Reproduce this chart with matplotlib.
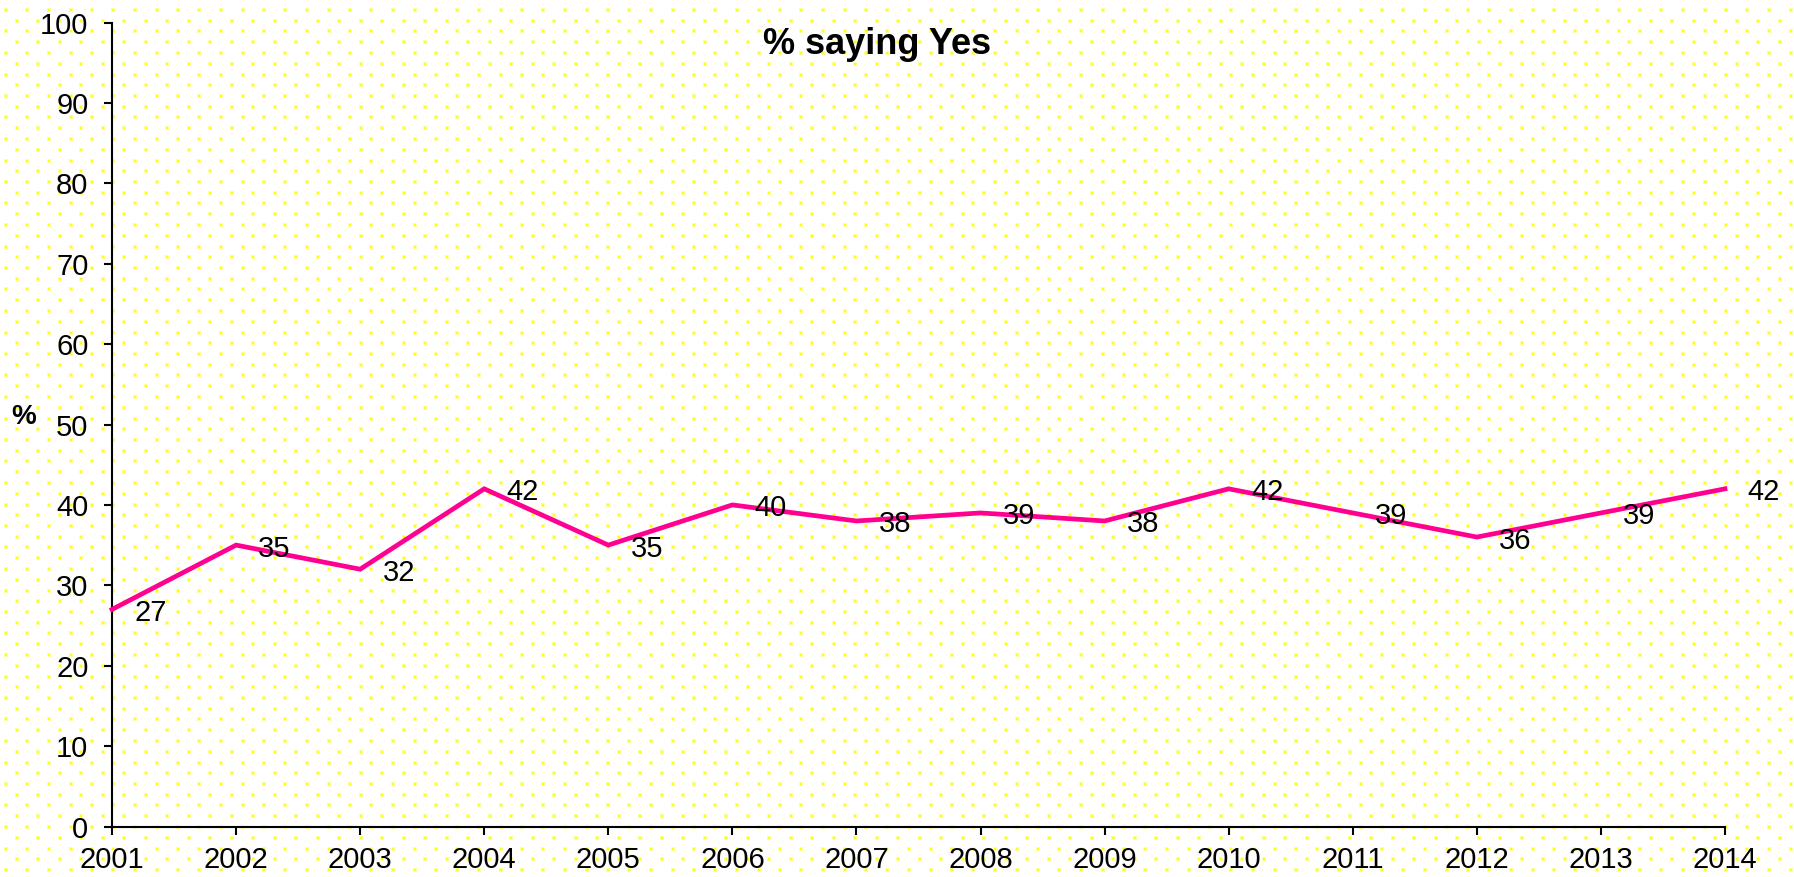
import numpy as np
import matplotlib
matplotlib.use('Agg')
import matplotlib.pyplot as plt

# region [Data]
years = list(range(2001, 2015))
yes_pct = [27, 35, 32, 42, 35, 40, 38, 39, 38, 42, 39, 36, 39, 42]
y_ticks = list(range(0, 101, 10))
title = '% saying Yes'
y_label = '%'
# endregion

W, H, DPI = 1794, 877, 100
plt.rcParams['font.family'] = ['Liberation Sans', 'DejaVu Sans']

def dotted_background(w: int, h: int) -> np.ndarray:
  # staggered yellow dot pattern behind everything
  bg = np.ones((h, w, 3))
  step = 21.5
  for r in range(int(h / (step / 2)) + 2):
    y = int(round(9 + r * step / 2))
    x0 = 5 + (step / 2 if r % 2 else 0)
    for c in range(int(w / step) + 2):
      x = int(round(x0 + c * step))
      if 1 <= y < h - 2 and 1 <= x < w - 2:
        bg[y - 1:y + 3, x - 1:x + 3] = np.minimum(bg[y - 1:y + 3, x - 1:x + 3], (1.0, 1.0, 0.6))
        bg[y:y + 2, x:x + 2] = (1.0, 1.0, 0.0)
  return bg

fig = plt.figure(figsize=(W / DPI, H / DPI), dpi=DPI, facecolor='white')
fig.figimage(dotted_background(W, H), xo=0, yo=0, origin='upper', zorder=-10)

left, right, bottom, top = 112 / W, 1725 / W, (H - 826.5) / H, (H - 22.5) / H
ax = fig.add_axes([left, bottom, right - left, top - bottom])
ax.set_facecolor('none')

ax.plot(years, yes_pct, color='#FF0090', lw=3.4, solid_joinstyle='miter', clip_on=False, zorder=3)
for x, v in zip(years, yes_pct):
  ax.annotate(str(v), (x, v), xytext=(16, -2.5), textcoords='offset points',
              ha='left', va='center', fontsize=21, color='black', zorder=4)

ax.set_xlim(years[0], years[-1])
ax.set_ylim(0, 100)
ax.set_xticks(years)
ax.set_yticks(y_ticks)
for s in ('top', 'right'):
  ax.spines[s].set_visible(False)
for s in ('left', 'bottom'):
  ax.spines[s].set_linewidth(1.5)
ax.tick_params(axis='both', direction='out', length=6, width=1.5, labelsize=21, colors='black')
ax.tick_params(axis='y', pad=11)
ax.tick_params(axis='x', pad=8)

fig.text(877.5 / W, 1 - 44 / H, title, ha='center', va='center', fontsize=26, fontweight='bold')
fig.text(24 / W, 1 - 417 / H, y_label, ha='center', va='center', fontsize=20, fontweight='bold')

fig.savefig('out.png', dpi=DPI, facecolor='white')
